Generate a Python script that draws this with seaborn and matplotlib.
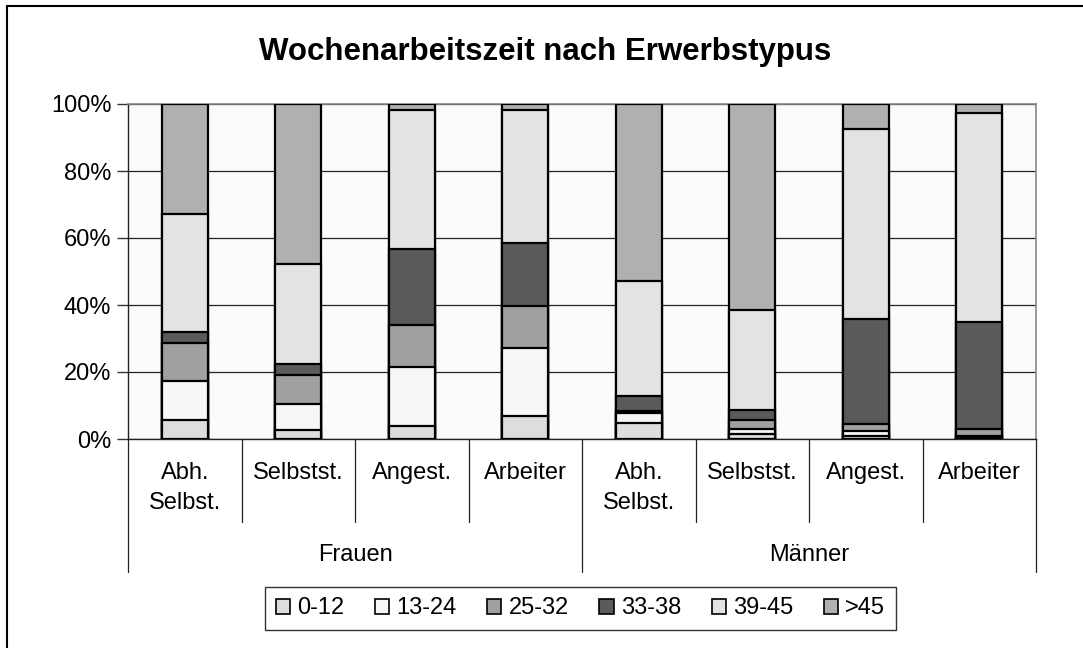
import numpy as np
import pandas as pd
import matplotlib
matplotlib.use("Agg")
import matplotlib.pyplot as plt
from matplotlib.patches import Patch
from matplotlib.lines import Line2D
import matplotlib.transforms as mtransforms
import seaborn as sns

# ---------------- data ----------------
groups = ["Frauen", "Männer"]
types = ["Abh.\nSelbst.", "Selbstst.", "Angest.", "Arbeiter"]
series_names = ["0-12", "13-24", "25-32", "33-38", "39-45", ">45"]

v_0_12 = [5.7, 2.7, 4.0, 7.0, 4.7, 1.5, 1.0, 0.5]
v_13_24 = [11.7, 7.7, 17.4, 20.1, 3.0, 1.5, 1.5, 0.5]
v_25_32 = [11.4, 8.6, 12.7, 12.7, 0.8, 2.7, 2.0, 2.0]
v_33_38 = [3.0, 3.5, 22.5, 18.6, 4.4, 3.0, 31.3, 31.8]
v_39_45 = [35.3, 29.6, 41.7, 39.9, 34.4, 29.9, 56.7, 62.4]
v_gt45 = [32.9, 47.9, 1.7, 1.7, 52.7, 61.4, 7.5, 2.8]

y_ticks = [0, 20, 40, 60, 80, 100]
y_ticklabels = ["0%", "20%", "40%", "60%", "80%", "100%"]

colors = ["#DDDDDD", "#F7F7F7", "#A0A0A0", "#5A5A5A", "#E3E3E3", "#B0B0B0"]

# ---------------- table ----------------
series_vals = [v_0_12, v_13_24, v_25_32, v_33_38, v_39_45, v_gt45]
pos_keys = [f"{g}|{t}" for g in groups for t in types]
df = pd.DataFrame({"pos": pos_keys})
cum = np.cumsum(np.array(series_vals), axis=0)
for name, c in zip(series_names, cum):
    df[name] = c

# ---------------- figure ----------------
sns.set_theme(style="white")
plt.rcParams["font.family"] = ["Liberation Sans", "DejaVu Sans"]
for k in ["text.color", "axes.labelcolor", "xtick.color", "ytick.color"]:
    plt.rcParams[k] = "black"

FS = 17

fig = plt.figure(figsize=(10.83, 6.48), dpi=100)
ax = fig.add_axes([128 / 1083, 1 - 439 / 648, (1036 - 128) / 1083, (439 - 104) / 648])
ax.set_facecolor("#FBFBFB")

# draw stacked layers: largest cumulative first
for name, col in reversed(list(zip(series_names, colors))):
    sns.barplot(data=df, x="pos", y=name, order=pos_keys, color=col,
                saturation=1, edgecolor="black", linewidth=1.6, width=0.405,
                errorbar=None, ax=ax, zorder=3)

ax.set_xlim(-0.5, len(pos_keys) - 0.5)
ax.set_ylim(0, 100)
ax.set_yticks(y_ticks)
ax.set_yticklabels(y_ticklabels, fontsize=FS)
ax.yaxis.grid(True, color="#222222", linewidth=0.9, zorder=0)
ax.set_axisbelow(True)
ax.tick_params(axis="y", which="both", left=True, length=8, width=1, color="#333333", pad=4)
ax.set_xticks([])
ax.set_xlabel("")
ax.set_ylabel("")
for s in ["top", "right"]:
    ax.spines[s].set_color("#888888")
    ax.spines[s].set_linewidth(1.2)
for s in ["left", "bottom"]:
    ax.spines[s].set_color("#222222")
    ax.spines[s].set_linewidth(1.0)

# multi-level category axis
trans = mtransforms.blended_transform_factory(ax.transData, ax.transAxes)
n = len(pos_keys)
for b in np.arange(-0.5, n, 1.0):
    outer = (b == -0.5) or (b == n - 0.5) or (b == len(types) - 0.5)
    y_end = -0.397 if outer else -0.248
    ax.plot([b, b], [0, y_end], transform=trans, color="#222222", lw=0.9,
            clip_on=False, zorder=5)

for i, key in enumerate(pos_keys):
    label = key.split("|")[1]
    lines = label.split("\n")
    for j, line in enumerate(lines):
        ax.text(i, -0.101 - 0.09 * j, line, transform=trans, ha="center",
                va="center", fontsize=FS, color="black")

for gi, g in enumerate(groups):
    xc = gi * len(types) + (len(types) - 1) / 2
    ax.text(xc, -0.346, g, transform=trans, ha="center", va="center",
            fontsize=FS, color="black")

# title
fig.text(0.503, 1 - 52 / 648, "Wochenarbeitszeit nach Erwerbstypus",
         ha="center", va="center", fontsize=22.5, fontweight="bold", color="black")

# legend
handles = [Patch(facecolor=c, edgecolor="black", linewidth=1.2) for c in colors]
leg = fig.legend(handles, series_names, loc="center", ncol=6,
                 bbox_to_anchor=(580.5 / 1083, 1 - 608.5 / 648),
                 frameon=True, fancybox=False, fontsize=FS,
                 handlelength=0.6, handleheight=0.6, handletextpad=0.3,
                 columnspacing=1.3, borderpad=0.45)
leg.get_frame().set_edgecolor("black")
leg.get_frame().set_linewidth(1.0)

# outer figure border (top and left visible)
x0 = 7 / 1083
y0 = 1 - 6 / 648
fig.add_artist(Line2D([x0, 1.0], [y0, y0], transform=fig.transFigure, color="black", lw=1.5))
fig.add_artist(Line2D([x0, x0], [0.0, y0], transform=fig.transFigure, color="black", lw=1.5))

fig.savefig("out.png", dpi=100)
